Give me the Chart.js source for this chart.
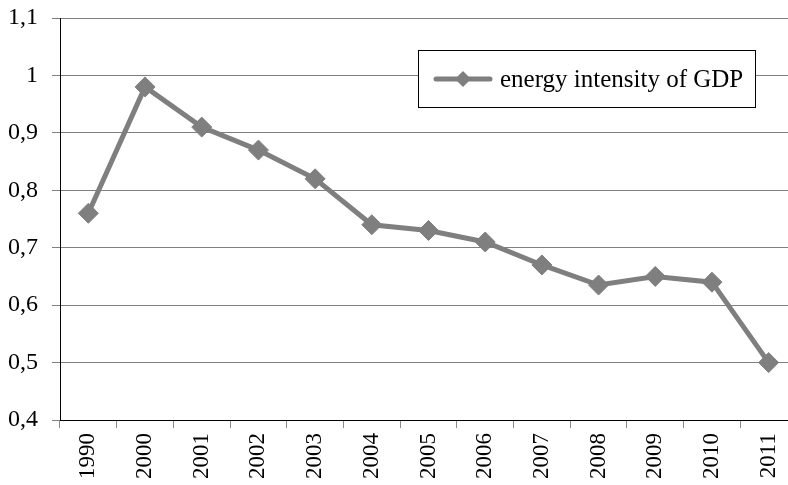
<!DOCTYPE html>
<html>
<head>
<meta charset="utf-8">
<script src="https://cdn.jsdelivr.net/npm/chart.js@4/dist/chart.umd.min.js"></script>
<style>
  html, body { margin: 0; padding: 0; background: #fff; overflow: hidden; }
  #wrap { width: 808px; height: 485px; }
</style>
</head>
<body>
<div id="wrap"><canvas id="energyChart"></canvas></div>
<script>
const years = ['1990', '2000', '2001', '2002', '2003', '2004', '2005', '2006', '2007', '2008', '2009', '2010', '2011'];
const intensity = [0.76, 0.98, 0.91, 0.87, 0.82, 0.74, 0.73, 0.71, 0.67, 0.635, 0.65, 0.64, 0.50];
const seriesName = 'energy intensity of GDP';
const yMin = 0.4, yMax = 1.1, yStep = 0.1;

const serif = 'Liberation Serif';
const lineGray = '#7f7f7f';

// legend drawn as a framed box inside the plot, like the original
const boxLegend = {
    id: 'boxLegend',
    afterDraw(chart) {
        const c = chart.ctx;
        const ds = chart.data.datasets[0];
        c.save();
        c.fillStyle = '#fff';
        c.fillRect(418, 50, 337, 57);
        c.strokeStyle = '#000';
        c.lineWidth = 1;
        c.strokeRect(418.5, 50.5, 337, 57);
        c.strokeStyle = ds.borderColor;
        c.lineWidth = 5;
        c.lineCap = 'round';
        c.beginPath();
        c.moveTo(436, 79);
        c.lineTo(490, 79);
        c.stroke();
        c.fillStyle = ds.borderColor;
        c.beginPath();
        c.moveTo(463, 71); c.lineTo(471, 79); c.lineTo(463, 87); c.lineTo(455, 79);
        c.closePath();
        c.fill();
        c.fillStyle = '#000';
        c.font = '25px "' + serif + '"';
        c.textBaseline = 'middle';
        c.fillText(ds.label, 500, 80);
        c.restore();
    }
};

const ctx = document.getElementById('energyChart').getContext('2d');
const energyChart = new Chart(ctx, {
    type: 'line',
    data: {
        labels: years,
        datasets: [{
            label: seriesName,
            data: intensity,
            borderColor: lineGray,
            backgroundColor: lineGray,
            borderWidth: 5,
            tension: 0,
            pointStyle: 'rectRot',
            pointRadius: 10,
            pointBackgroundColor: lineGray,
            pointBorderColor: lineGray,
            pointBorderWidth: 1,
            clip: false
        }]
    },
    options: {
        responsive: true,
        maintainAspectRatio: false,
        animation: false,
        layout: { padding: { top: 18, right: 0, left: 0, bottom: 0 } },
        plugins: {
            legend: { display: false },
            tooltip: { enabled: false }
        },
        scales: {
            x: {
                offset: true,
                grid: {
                    offset: true,
                    drawOnChartArea: false,
                    color: '#8a8a8a',
                    tickLength: 8
                },
                border: { color: '#000', width: 1 },
                ticks: {
                    color: '#000',
                    font: { family: serif, size: 23 },
                    minRotation: 90,
                    maxRotation: 90,
                    padding: 5,
                    autoSkip: false
                },
                afterFit(scale) { scale.height = 65; }
            },
            y: {
                min: yMin,
                max: yMax,
                grid: {
                    color: '#808080',
                    tickLength: 8
                },
                border: { color: '#000', width: 1 },
                ticks: {
                    stepSize: yStep,
                    color: '#000',
                    padding: 14,
                    font: { family: serif, size: 24 },
                    callback: function(value) {
                        return String(Math.round(value * 10) / 10).replace('.', ','); // coma decimal
                    }
                },
                afterFit(scale) {
                    scale.width = 60;
                    scale.paddingTop = 0;
                    scale.paddingBottom = 0;
                }
            }
        }
    },
    plugins: [boxLegend]
});
</script>
</body>
</html>
